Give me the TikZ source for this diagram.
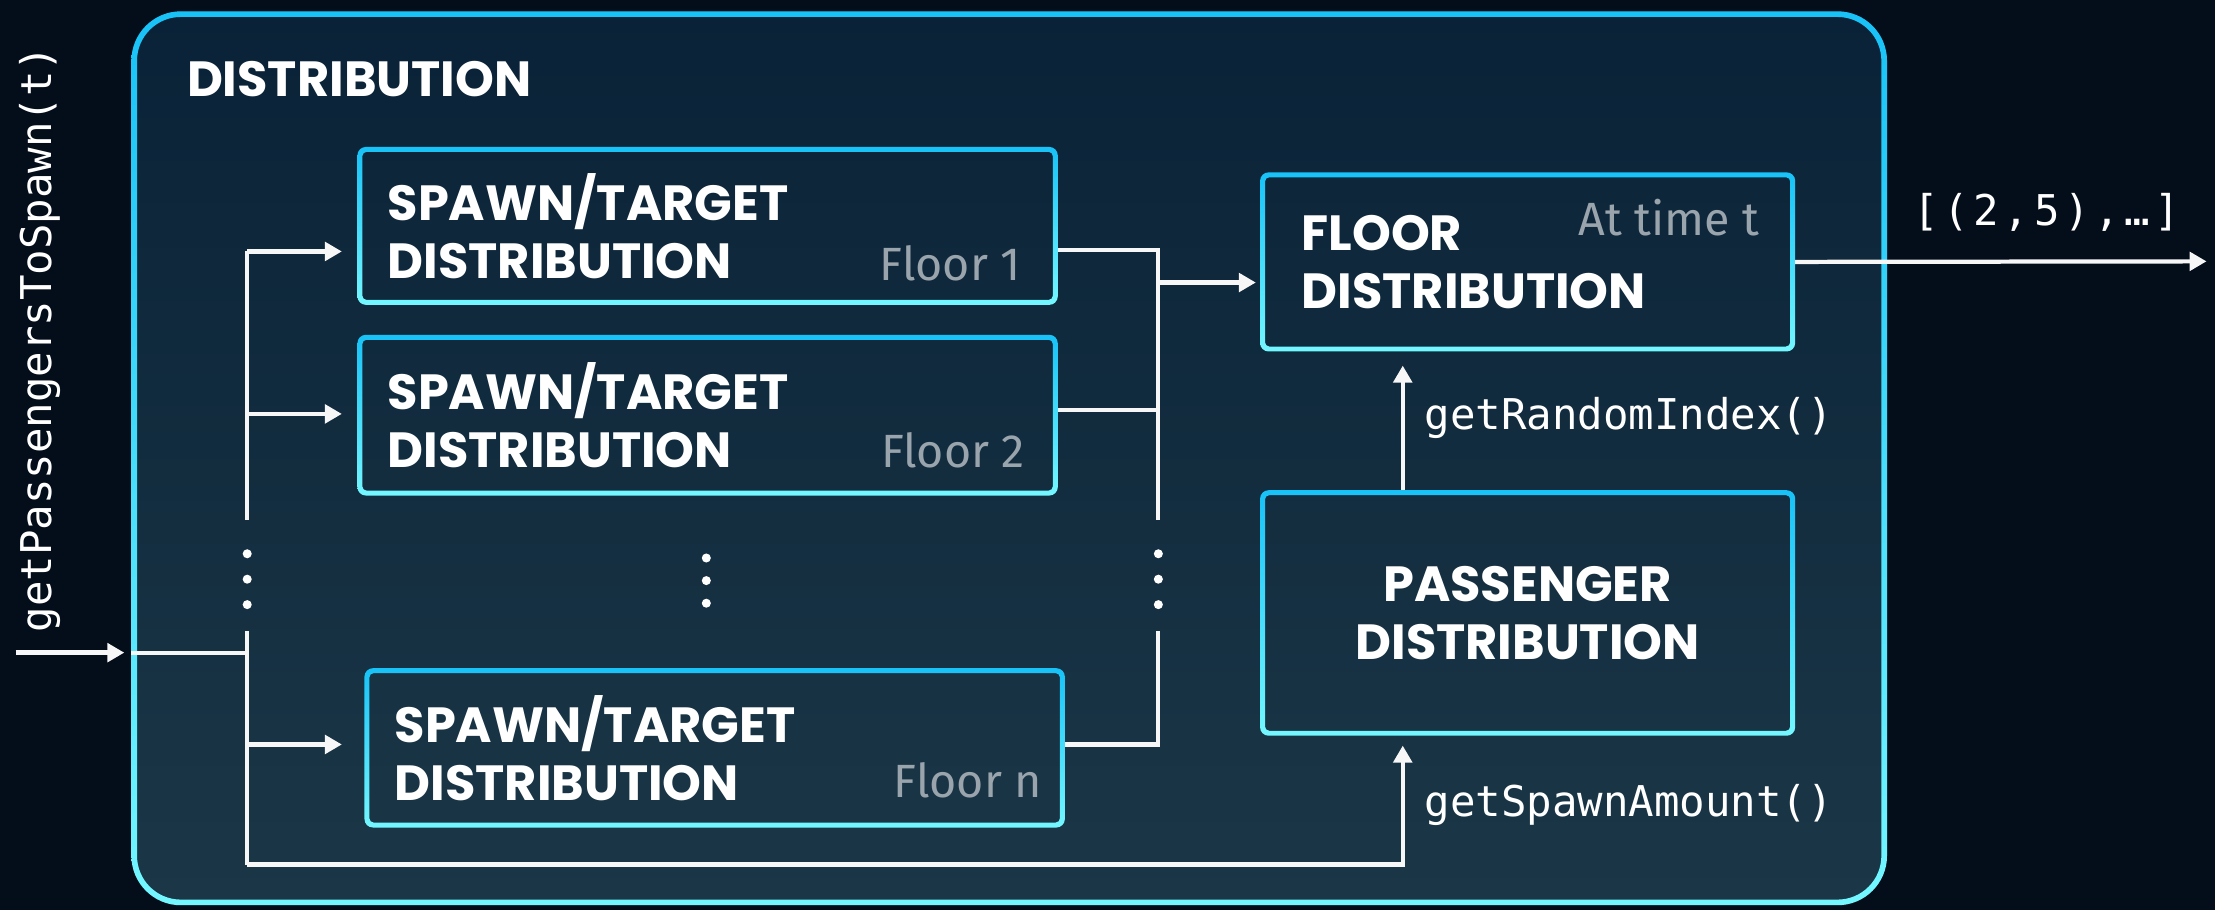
\documentclass[tikz,border=0pt]{standalone}
\usepackage{fontspec}
\usetikzlibrary{arrows.meta,calc}
\setmainfont{Poppins}
\newfontfamily\headfont{Poppins}
\newfontfamily\codefont{DejaVu Sans Mono}
\newfontfamily\codewide{DejaVu Sans Mono}[LetterSpace=11]
\newfontfamily\notefont{Fira Sans}
\definecolor{bgcol}{HTML}{040D1A}
\definecolor{filltop}{HTML}{0A2237}
\definecolor{fillbot}{HTML}{1B3747}
\definecolor{bdtop}{HTML}{18C2F7}
\definecolor{bdbot}{HTML}{74F7FF}
\definecolor{greytxt}{HTML}{9AA4AC}
\definecolor{linecol}{HTML}{F7F7F7}
% #1 node, #2 outer radius, #3 border width, #4 inner radius
\newcommand{\gring}[4]{%
  \shade[top color=bdtop, bottom color=bdbot, even odd rule, rounded corners=#2]
    (#1.north west) rectangle (#1.south east)
    [rounded corners=#4]
    ([shift={(#3,-#3)}]#1.north west) rectangle ([shift={(-#3,#3)}]#1.south east);}
\begin{document}
\begin{tikzpicture}[x=0.5pt,y=-0.5pt,
  line/.style={draw=linecol, line width=1.5pt},
  arr/.style={line, -{Triangle[length=6pt,width=6.5pt]}},
  head/.style={font=\headfont\bfseries\fontsize{17.5}{20.5}\selectfont, text=white},
  code/.style={font=\codefont\fontsize{15}{16}\selectfont, text=white, inner sep=0pt},
  note/.style={font=\notefont\fontsize{16.5}{18}\selectfont, text=greytxt, inner sep=0pt},
  sbox/.style={rectangle, head, align=left, text width=226.5pt, inner xsep=10.5pt, inner ysep=0pt},
  dbox/.style={rectangle, head, text width=160pt, inner xsep=14.5pt, inner ysep=0pt},
  dot/.style={circle, fill=white, inner sep=0pt, minimum size=3.2pt},
]
\fill[bgcol] (0,0) rectangle (1568,644);
\useasboundingbox (0,0) rectangle (1568,644);

% outer container
\node[rectangle, minimum width=621pt, minimum height=316pt, inner sep=0pt, anchor=north west] (outer) at (93,8) {};
\shade[top color=filltop, bottom color=fillbot, rounded corners=17.5pt] (outer.north west) rectangle (outer.south east);
\gring{outer}{17.5pt}{2pt}{15.5pt}
\node[head, anchor=base west, inner sep=0pt] (title) at (132,68) {DISTRIBUTION};

% boxes
\node[sbox, anchor=north west, minimum height=55.5pt] (S1) at (253,104) {SPAWN/TARGET\\DISTRIBUTION};
\node[sbox, anchor=north west, minimum height=56.5pt] (S2) at (253,237) {SPAWN/TARGET\\DISTRIBUTION};
\node[sbox, anchor=north west, minimum height=56pt] (Sn) at (258,473) {SPAWN/TARGET\\DISTRIBUTION};
\node[dbox, align=left, anchor=north west, minimum height=63pt] (FD) at (892,122) {FLOOR\\DISTRIBUTION};
\node[dbox, align=center, anchor=north west, minimum height=86.5pt] (PD) at (892,347) {PASSENGER\\DISTRIBUTION};
\foreach \n in {S1,S2,Sn,FD,PD}{\gring{\n}{3pt}{1.75pt}{1.5pt}}

% grey notes
\node[note, anchor=base east] (f1) at ([shift={(-13pt,8.5pt)}]S1.south east) {Floor 1};
\node[note, anchor=base east] (f2) at ([shift={(-11.5pt,10pt)}]S2.south east) {Floor 2};
\node[note, anchor=base east] (fn) at ([shift={(-8pt,10.5pt)}]Sn.south east) {Floor n};
\node[note, anchor=base east] (attime) at ([shift={(-12.5pt,-22.5pt)}]FD.north east) {At time t};

% coordinates
\coordinate (inL) at (11,462);
\coordinate (tj) at (175,462);
\coordinate (t1) at (175,178);
\coordinate (t2) at (175,293);
\coordinate (tn) at (175,527);
\coordinate (tb) at (175,612);
\coordinate (tgapA) at (175,368);
\coordinate (tgapB) at (175,447);
\coordinate (r1) at (820,177);
\coordinate (r2) at (820,290);
\coordinate (rn) at (820,527);
\coordinate (rf) at (820,200);
\coordinate (rgapA) at (820,368);
\coordinate (rgapB) at (820,447);
\coordinate (colx) at (993,0);
\coordinate (out) at (1562,185);

% input
\draw[arr, shorten >=2.5pt, line width=2pt] (inL) -- (inL -| outer.west);
\draw[line] (inL -| outer.west) -- (tj);
\draw[line] (t1) -- (tgapA);
\draw[line] (tgapB) -- (tb);
\draw[arr, shorten >=5.5pt] (t1) -- (t1 -| S1.west);
\draw[arr, shorten >=5.5pt] (t2) -- (t2 -| S2.west);
\draw[arr, shorten >=8pt] (tn) -- (tn -| Sn.west);
\draw[arr, shorten >=3.5pt] (tb) -| (colx |- PD.south);

% collector
\draw[line] (r1 -| S1.east) -- (r1) -- (rgapA);
\draw[line] (r2 -| S2.east) -- (r2);
\draw[line] (rn -| Sn.east) -- (rn) -- (rgapB);
\draw[arr, shorten >=1.5pt] (rf) -- (rf -| FD.west);

% right side
\draw[arr, shorten >=5pt] (colx |- PD.north) -- (colx |- FD.south);
\draw[arr] (FD.east) -- (out);

% dots
\foreach \y [count=\i] in {392,410,428}{
  \node[dot] (dl\i) at (175,\y) {};
  \node[dot] (dr\i) at (820,\y) {};
}
\foreach \y [count=\i] in {395,411,427}{
  \node[dot] (dm\i) at (500,\y) {};
}

% code labels
\node[code, anchor=west] (lri) at (1008,296) {getRandomIndex()};
\node[code, anchor=west] (lsa) at (1008,570) {getSpawnAmount()};
\node[code, font=\codewide\fontsize{15}{16}\selectfont] (lout) at (1449,150) {[(2,5),…]};
\node[code, rotate=90] (lin) at (28,240) {getPassengersToSpawn(t)};
\end{tikzpicture}
\end{document}
